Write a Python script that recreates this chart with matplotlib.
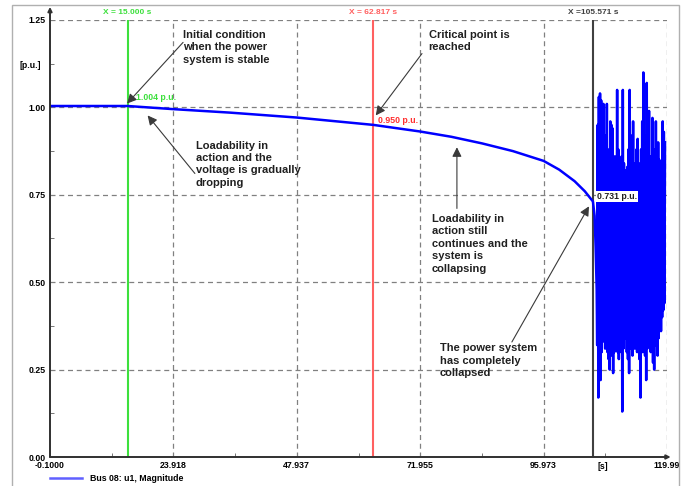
import numpy as np
import matplotlib
matplotlib.use("Agg")
import matplotlib.pyplot as plt
from matplotlib.patches import Rectangle
from matplotlib.lines import Line2D

plt.rcParams['font.family'] = ['Liberation Sans', 'DejaVu Sans']

# Smooth part of the bus voltage
t_curve = [-0.1, 15.0, 23.918, 35.0, 47.937, 55.0, 62.817, 71.955, 78.0, 84.0,
           90.0, 95.973, 99.0, 102.0, 104.0, 105.571, 105.9, 106.1, 106.3]
v_curve = [1.004, 1.004, 0.995, 0.985, 0.971, 0.961, 0.950, 0.931, 0.916, 0.897,
           0.875, 0.847, 0.822, 0.789, 0.760, 0.731, 0.690, 0.600, 0.480]

# Collapse oscillation: successive peaks and troughs after 106.3 s
osc_peaks = [0.95, 1.03, 1.04, 1.02, 1.00, 1.01, 0.92, 0.90, 1.01, 0.85,
             0.88, 0.96, 0.95, 0.94, 0.84, 0.86, 0.80, 1.05, 0.88, 0.82,
             0.80, 0.86, 1.05, 0.84, 0.82, 0.80, 0.83, 0.88, 1.05, 0.92,
             0.86, 0.96, 0.84, 0.82, 0.88, 0.91, 0.84, 0.80, 0.88, 0.96,
             1.10, 0.92, 0.86, 1.07, 0.90, 0.99, 0.86, 0.82, 0.97, 0.84,
             0.88, 0.96, 0.80, 0.90, 0.85, 0.79, 0.82, 0.96, 0.93, 0.90]
osc_troughs = [0.32, 0.17, 0.26, 0.22, 0.30, 0.33, 0.36, 0.31, 0.34, 0.30,
               0.28, 0.25, 0.32, 0.29, 0.24, 0.30, 0.35, 0.33, 0.30, 0.28,
               0.32, 0.30, 0.13, 0.31, 0.36, 0.34, 0.30, 0.28, 0.24, 0.31,
               0.35, 0.29, 0.33, 0.31, 0.36, 0.30, 0.34, 0.28, 0.17, 0.32,
               0.30, 0.35, 0.29, 0.22, 0.31, 0.36, 0.33, 0.30, 0.34, 0.27,
               0.25, 0.32, 0.35, 0.29, 0.34, 0.38, 0.36, 0.40, 0.42, 0.44]
osc_start, osc_end = 106.4, 119.6

x_ticks = [-0.1, 23.918, 47.937, 71.955, 95.973, 119.99]
x_labels = ['-0.1000', '23.918', '47.937', '71.955', '95.973', '119.99']
y_ticks = [0.0, 0.25, 0.50, 0.75, 1.00, 1.25]

markers = [(15.000, '#3de03d', 'X = 15.000 s'),
           (62.817, '#ff6060', 'X = 62.817 s'),
           (105.571, '#404040', 'X =105.571 s')]

# build full trace
osc_v = np.ravel(np.column_stack([osc_troughs, osc_peaks]))
osc_t = np.linspace(osc_start, osc_end, len(osc_v))
t = np.concatenate([t_curve, osc_t])
v = np.concatenate([v_curve, osc_v])

fig = plt.figure(figsize=(6.86, 4.86), dpi=100)
ax = fig.add_axes([50 / 686, 29 / 486, 617 / 686, 437 / 486])

ax.set_xlim(x_ticks[0], x_ticks[-1])
ax.set_ylim(0, 1.25)

grid_kw = dict(color='#808080', lw=0.9, ls=(0, (4, 3)), zorder=1)
for xt in x_ticks[1:]:
    ax.axvline(xt, **grid_kw)
for yt in y_ticks[1:]:
    ax.axhline(yt, **grid_kw)

for xm, col, lab in markers:
    ax.plot([xm, xm], [0, 1.25], color=col, lw=1.5, zorder=2)
    ax.text(xm, 1.262, lab, color=col, fontsize=6, fontweight='bold',
            ha='center', va='bottom')

ax.plot(t, v, color='#0000ff', lw=1.8, zorder=3)

# axes styling
for s in ['top', 'right', 'left', 'bottom']:
    ax.spines[s].set_visible(False)
ax.annotate('', xy=(0, 1.03), xytext=(0, 0), xycoords='axes fraction',
            arrowprops=dict(arrowstyle='-|>', color='#303030', lw=1.4,
                            mutation_scale=6, shrinkA=0, shrinkB=0))
ax.annotate('', xy=(1.006, 0), xytext=(0, 0), xycoords='axes fraction',
            arrowprops=dict(arrowstyle='-|>', color='#303030', lw=1.4,
                            mutation_scale=6, shrinkA=0, shrinkB=0))

ax.set_xticks(x_ticks)
ax.set_xticklabels(x_labels)
ax.set_xticks([(a + b) / 2 for a, b in zip(x_ticks[:-1], x_ticks[1:])], minor=True)
ax.set_yticks(y_ticks)
ax.set_yticklabels([f'{y:.2f}' for y in y_ticks])
ax.set_yticks([y + 0.125 for y in y_ticks[:-1]], minor=True)
ax.tick_params(which='major', length=0, labelsize=6.3, pad=3)
ax.tick_params(which='minor', direction='in', length=3, color='#606060')
for lbl in ax.get_xticklabels() + ax.get_yticklabels():
    lbl.set_fontweight('bold')

ax.text(107.5, -0.012, '[s]', transform=ax.get_xaxis_transform(),
        fontsize=6.3, fontweight='bold', ha='center', va='top')
ax.text(-4.0, 1.12, '[p.u.]', fontsize=6.3, fontweight='bold',
        ha='center', va='center', clip_on=False)

# value labels at the cursors
ax.text(16.6, 1.016, '1.004 p.u.', color='#3de03d', fontsize=6.3,
        fontweight='bold', va='bottom')
ax.text(63.7, 0.963, '0.950 p.u.', color='#ff3030', fontsize=6.3,
        fontweight='bold', va='center')
ax.text(106.3, 0.746, '0.731 p.u.', color='#202020', fontsize=6.3,
        fontweight='bold', va='center', zorder=5,
        bbox=dict(fc='white', ec='none', pad=0.6))

# explanatory notes
arrow_kw = dict(arrowstyle='-|>', color='#3a3a3a', lw=0.8, mutation_scale=14,
                shrinkA=0, shrinkB=0)
notes = [
    ('Initial condition\nwhen the power\nsystem is stable', (25.7, 1.222), (25.8, 1.186), (14.9, 1.011)),
    ('Loadability in\naction and the\nvoltage is gradually\ndropping', (28.3, 0.905), (28.1, 0.811), (18.9, 0.977)),
    ('Critical point is\nreached', (73.6, 1.222), (72.3, 1.154), (63.3, 0.977)),
    ('Loadability in\naction still\ncontinues and the\nsystem is\ncollapsing', (74.2, 0.695), (79.1, 0.711), (79.1, 0.886)),
    ('The power system\nhas completely\ncollapsed', (75.8, 0.325), (89.8, 0.329), (104.8, 0.717)),
]
for txt, pos, tail, head in notes:
    ax.text(pos[0], pos[1], txt, fontsize=8, fontweight='bold', color='#202020',
            ha='left', va='top', linespacing=1.3, zorder=6)
    ax.annotate('', xy=head, xytext=tail, arrowprops=arrow_kw, zorder=6)

# legend under the plot
fig.add_artist(Line2D([50 / 686, 82 / 686], [1 - 478 / 486] * 2, color='#6060ff', lw=1.8))
fig.text(90 / 686, 1 - 478 / 486, 'Bus 08: u1, Magnitude', fontsize=6.3,
         fontweight='bold', va='center')

# outer frame
fig.patches.append(Rectangle((12 / 686, -0.02), 667 / 686, 1 - 5 / 486 + 0.02,
                             transform=fig.transFigure, fill=False,
                             ec='#b0b0b0', lw=1))

fig.savefig('out.png', dpi=100)
plt.close(fig)
